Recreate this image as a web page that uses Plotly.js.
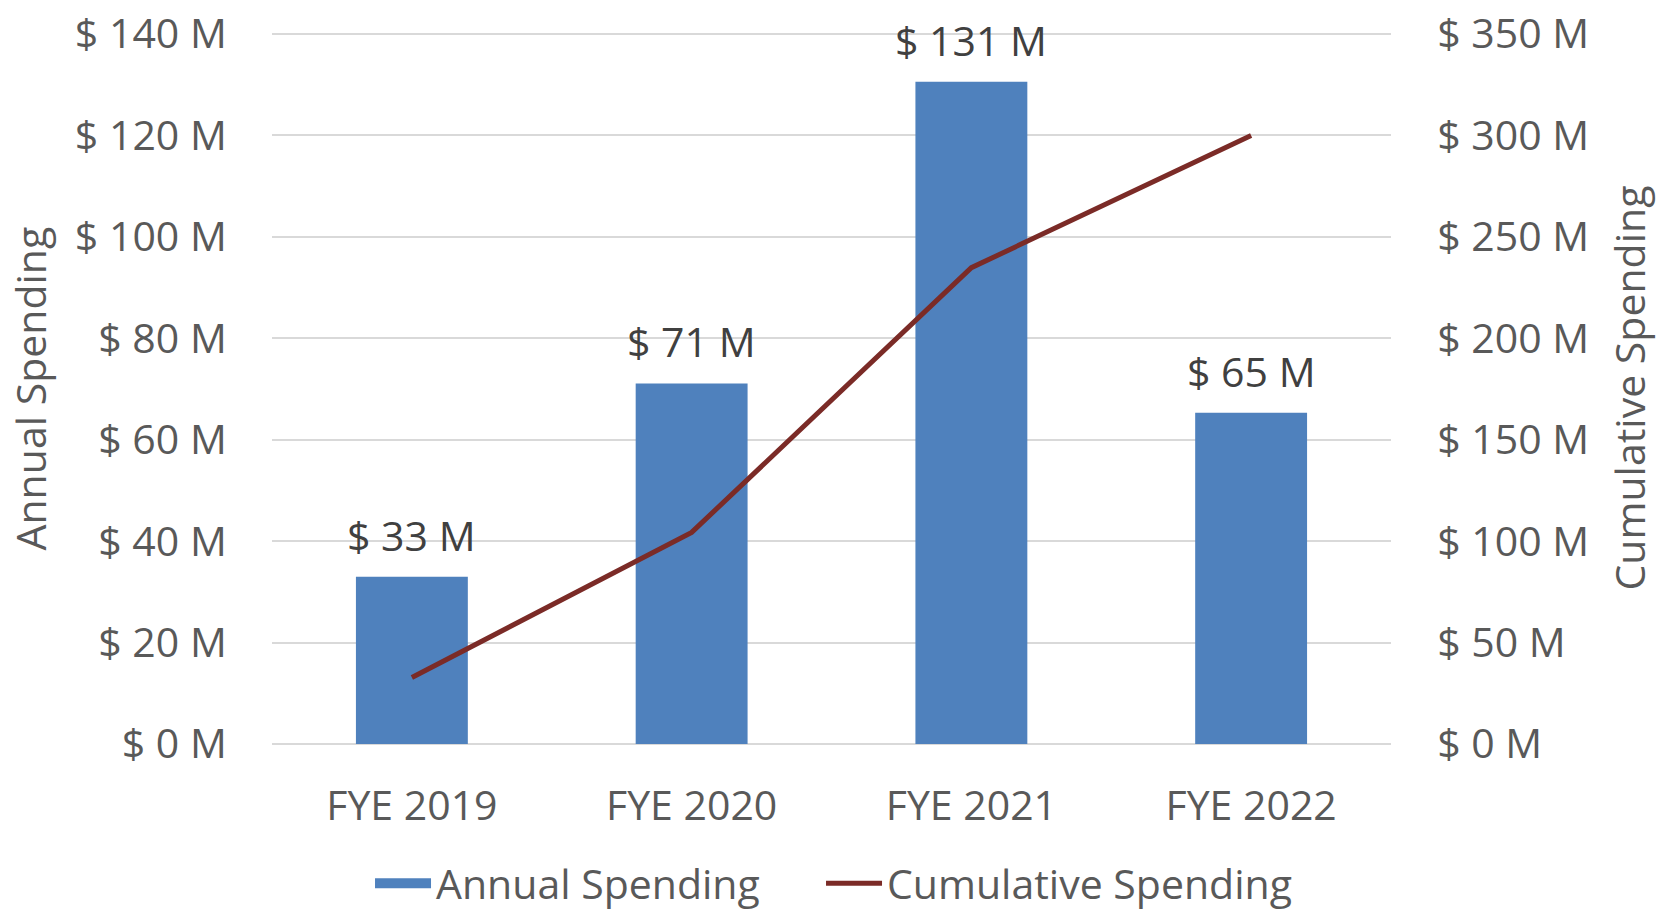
<!DOCTYPE html>
<html>
<head>
<meta charset="utf-8">
<script src="https://cdn.plot.ly/plotly-3.0.1.min.js"></script>
<style>html,body{margin:0;padding:0;background:#fff;}#chart{width:1663px;height:911px;}</style>
</head>
<body>
<div id="chart"></div>
<script>
const categories = ["FYE 2019", "FYE 2020", "FYE 2021", "FYE 2022"];
const annualSpending = [33.0, 71.1, 130.6, 65.3];
const cumulativeSpending = [32.8, 104.3, 234.8, 300.0];
const leftTicks = [0, 20, 40, 60, 80, 100, 120, 140];
const rightTicks = [0, 50, 100, 150, 200, 250, 300, 350];
const fmt = v => "$ " + v + " M";

const FONT = "Open Sans, sans-serif";
const GREY = "#595959";
const FS = 41;
const BLUE = "#4F81BD";
const RED = "#7B2B27";

const traces = [
  {
    type: "bar", name: "Annual Spending", x: categories, y: annualSpending,
    marker: {color: BLUE}, yaxis: "y", hoverinfo: "skip", showlegend: false
  },
  {
    // legend entry for the bars (wide swatch like the original)
    type: "scatter", mode: "lines", name: "Annual Spending", x: [null], y: [null],
    line: {color: BLUE, width: 25}, yaxis: "y", hoverinfo: "skip", showlegend: true, legend: "legend"
  },
  {
    type: "scatter", mode: "lines", name: "Cumulative Spending", x: categories, y: cumulativeSpending,
    line: {color: RED, width: 5}, yaxis: "y2", hoverinfo: "skip", legend: "legend2"
  }
];

const annotations = categories.map((c, i) => ({
  x: c, y: annualSpending[i], xref: "x", yref: "y",
  text: fmt(Math.round(annualSpending[i])), showarrow: false,
  yanchor: "bottom", yshift: 12, font: {family: FONT, size: FS, color: "#404040"}
}));
annotations.push({
  xref: "paper", yref: "paper", x: -0.2163, y: 0.5, textangle: -90, showarrow: false,
  text: "Annual Spending", xanchor: "center", yanchor: "middle",
  font: {family: FONT, size: FS, color: GREY}
});
annotations.push({
  xref: "paper", yref: "paper", x: 1.2118, y: 0.5, textangle: -90, showarrow: false,
  text: "Cumulative Spending", xanchor: "center", yanchor: "middle",
  font: {family: FONT, size: FS, color: GREY}
});

const legendBase = {
  orientation: "h", xanchor: "left", xref: "container",
  y: 0.03, yanchor: "middle", yref: "container",
  font: {family: FONT, size: FS, color: GREY}, itemwidth: 56,
  bgcolor: "rgba(0,0,0,0)"
};

const layout = {
  width: 1663, height: 911,
  margin: {l: 272, r: 272, t: 33, b: 167, pad: 0, autoexpand: false},
  paper_bgcolor: "#ffffff", plot_bgcolor: "#ffffff",
  font: {family: FONT, size: FS, color: GREY},
  bargap: 0.6,
  showlegend: true,
  legend: Object.assign({}, legendBase, {x: 0.2225}),
  legend2: Object.assign({}, legendBase, {x: 0.4937}),
  xaxis: {
    type: "category", range: [-0.5, 3.5], showgrid: false, showline: false, zeroline: false,
    ticks: "outside", ticklen: 26, tickcolor: "rgba(0,0,0,0)",
    tickfont: {family: FONT, size: FS, color: GREY}
  },
  yaxis: {
    range: [0, 140.2], tickvals: leftTicks, ticktext: leftTicks.map(fmt),
    showgrid: true, gridcolor: "#D9D9D9", gridwidth: 2,
    zeroline: true, zerolinecolor: "#D9D9D9", zerolinewidth: 2, showline: false,
    ticks: "outside", ticklen: 36, tickcolor: "rgba(0,0,0,0)",
    tickfont: {family: FONT, size: FS, color: GREY}
  },
  yaxis2: {
    range: [0, 350.5], overlaying: "y", side: "right", tickvals: rightTicks, ticktext: rightTicks.map(fmt),
    showgrid: false, zeroline: false, showline: false,
    ticks: "outside", ticklen: 37, tickcolor: "rgba(0,0,0,0)",
    tickfont: {family: FONT, size: FS, color: GREY}
  },
  annotations: annotations
};

Plotly.newPlot("chart", traces, layout, {displayModeBar: false, staticPlot: true});
</script>
</body>
</html>
